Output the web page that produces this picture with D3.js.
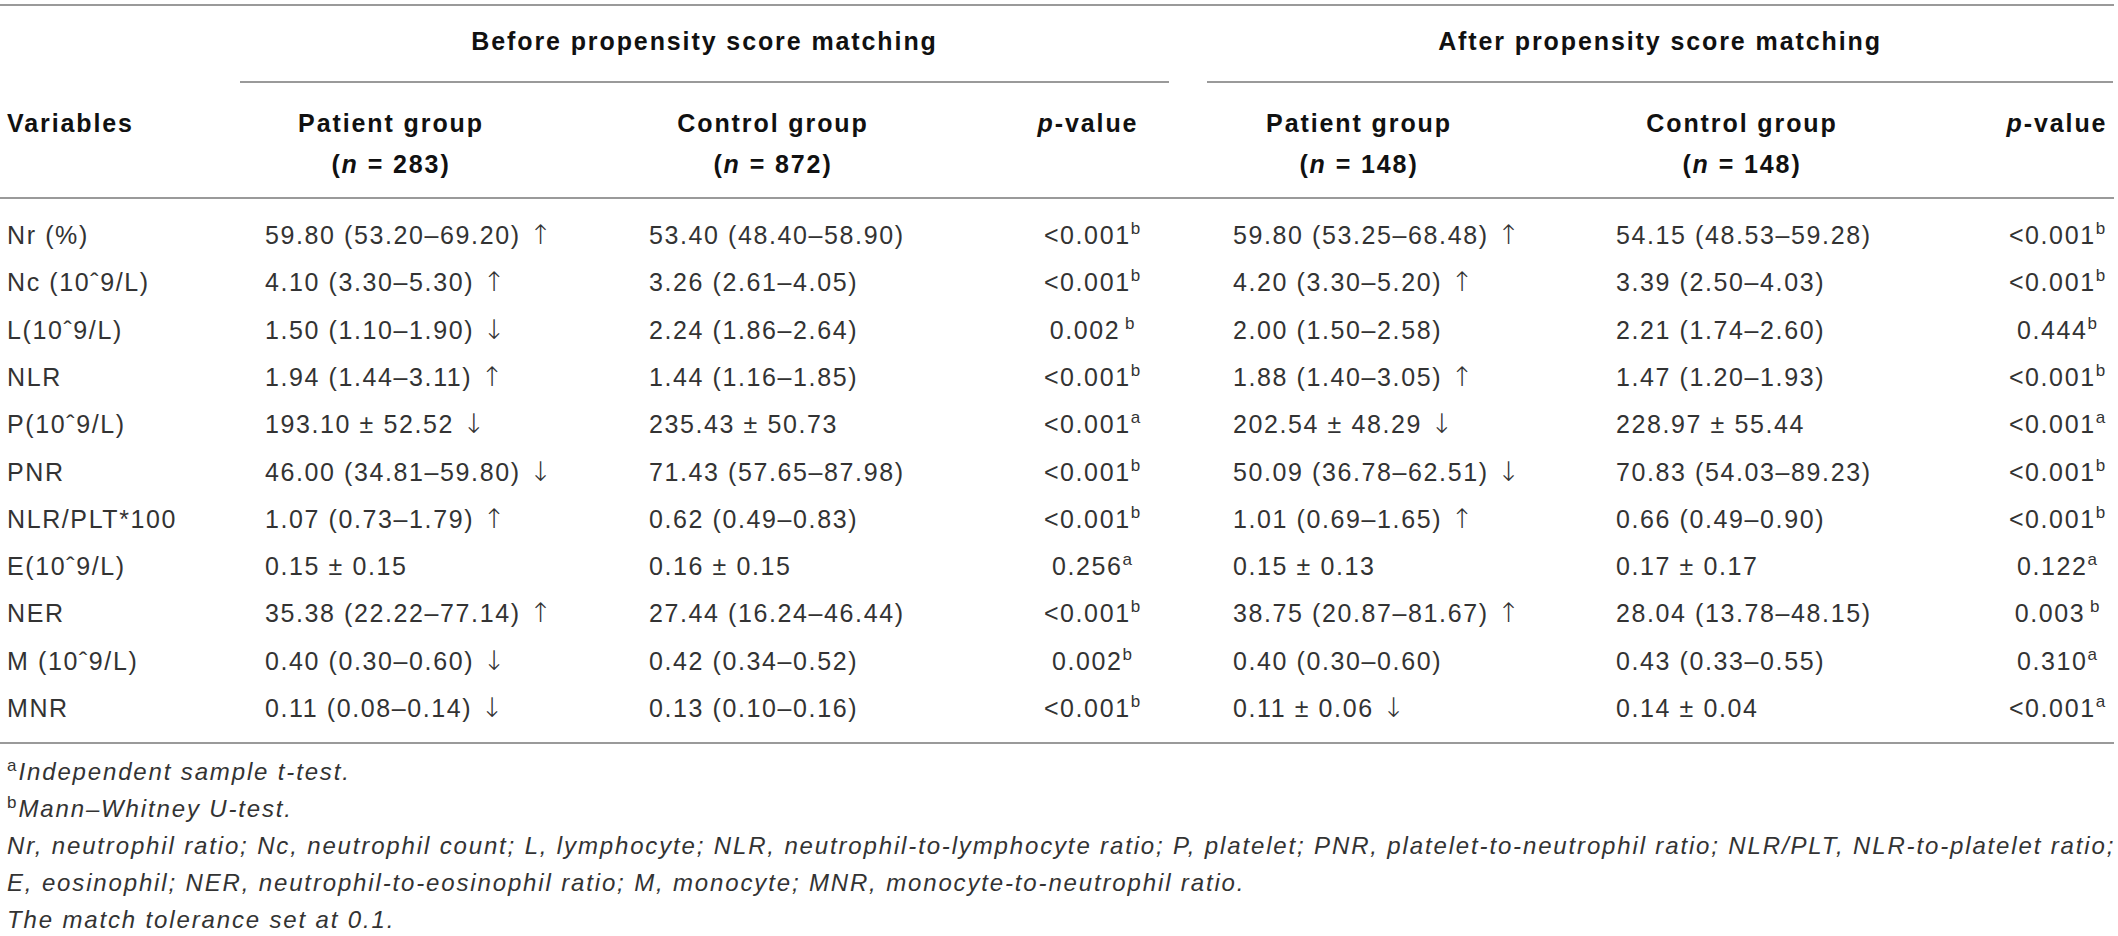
<!DOCTYPE html>
<html>
<head>
<meta charset="utf-8">
<script src="https://cdn.jsdelivr.net/npm/d3@7"></script>
<style>
  html, body { margin: 0; padding: 0; background: #fff; }
  svg text { font-family: "Liberation Sans", Arial, sans-serif; white-space: pre; }
</style>
</head>
<body>
<div id="table"></div>
<script>
// ---- table data ----
const variables = ["Nr (%)", "Nc (10ˆ9/L)", "L(10ˆ9/L)", "NLR", "P(10ˆ9/L)", "PNR",
  "NLR/PLT*100", "E(10ˆ9/L)", "NER", "M (10ˆ9/L)", "MNR"];

const beforePatient = ["59.80 (53.20–69.20) ↑", "4.10 (3.30–5.30) ↑", "1.50 (1.10–1.90) ↓",
  "1.94 (1.44–3.11) ↑", "193.10 ± 52.52 ↓", "46.00 (34.81–59.80) ↓", "1.07 (0.73–1.79) ↑",
  "0.15 ± 0.15", "35.38 (22.22–77.14) ↑", "0.40 (0.30–0.60) ↓", "0.11 (0.08–0.14) ↓"];
const beforeControl = ["53.40 (48.40–58.90)", "3.26 (2.61–4.05)", "2.24 (1.86–2.64)",
  "1.44 (1.16–1.85)", "235.43 ± 50.73", "71.43 (57.65–87.98)", "0.62 (0.49–0.83)",
  "0.16 ± 0.15", "27.44 (16.24–46.44)", "0.42 (0.34–0.52)", "0.13 (0.10–0.16)"];
const beforeP = ["<0.001", "<0.001", "0.002", "<0.001", "<0.001", "<0.001", "<0.001",
  "0.256", "<0.001", "0.002", "<0.001"];
const beforeTest = ["b", "b", " b", "b", "a", "b", "b", "a", "b", "b", "b"];

const afterPatient = ["59.80 (53.25–68.48) ↑", "4.20 (3.30–5.20) ↑", "2.00 (1.50–2.58)",
  "1.88 (1.40–3.05) ↑", "202.54 ± 48.29 ↓", "50.09 (36.78–62.51) ↓", "1.01 (0.69–1.65) ↑",
  "0.15 ± 0.13", "38.75 (20.87–81.67) ↑", "0.40 (0.30–0.60)", "0.11 ± 0.06 ↓"];
const afterControl = ["54.15 (48.53–59.28)", "3.39 (2.50–4.03)", "2.21 (1.74–2.60)",
  "1.47 (1.20–1.93)", "228.97 ± 55.44", "70.83 (54.03–89.23)", "0.66 (0.49–0.90)",
  "0.17 ± 0.17", "28.04 (13.78–48.15)", "0.43 (0.33–0.55)", "0.14 ± 0.04"];
const afterP = ["<0.001", "<0.001", "0.444", "<0.001", "<0.001", "<0.001", "<0.001",
  "0.122", "0.003", "0.310", "<0.001"];
const afterTest = ["b", "b", "b", "b", "a", "b", "b", "a", " b", "a", "a"];

const groups = ["Before propensity score matching", "After propensity score matching"];
const groupN = [["283", "872"], ["148", "148"]];

const footnotes = [
  { mark: "a", text: "Independent sample t-test." },
  { mark: "b", text: "Mann–Whitney U-test." },
  { mark: "", text: "Nr, neutrophil ratio; Nc, neutrophil count; L, lymphocyte; NLR, neutrophil-to-lymphocyte ratio; P, platelet; PNR, platelet-to-neutrophil ratio; NLR/PLT, NLR-to-platelet ratio;" },
  { mark: "", text: "E, eosinophil; NER, neutrophil-to-eosinophil ratio; M, monocyte; MNR, monocyte-to-neutrophil ratio." },
  { mark: "", text: "The match tolerance set at 0.1." }
];

// ---- layout ----
const width = 2118, height = 936;
const ruleColor = "#9a9a9a";
const bodyColor = "#333";

const svg = d3.select("#table").append("svg")
  .attr("width", width)
  .attr("height", height);

// row baselines
const y = d3.scalePoint().domain(variables).range([244, 717]);
const yFoot = d3.scalePoint().domain(d3.range(footnotes.length)).range([780, 928]);

// column anchors: left-aligned text columns and centered p-value columns
const colX = d3.scaleOrdinal()
  .domain(["var", "bp", "bc", "bpv", "ap", "ac", "apv"])
  .range([7, 265, 649, 1092, 1233, 1616, 2057]);
const headX = d3.scaleOrdinal()
  .domain(["bp", "bc", "bpv", "ap", "ac", "apv"])
  .range([391, 773, 1088, 1359, 1742, 2057]);
const spanX = d3.scaleOrdinal().domain(groups).range([[240, 1169], [1207, 2113]]);

// ---- rules ----
function rule(x1, x2, yy) {
  svg.append("line")
    .attr("x1", x1).attr("x2", x2)
    .attr("y1", yy).attr("y2", yy)
    .attr("stroke", ruleColor)
    .attr("stroke-width", 2);
}
rule(0, 2114, 5);
rule(0, 2114, 198);
rule(0, 2114, 743);
groups.forEach(g => rule(spanX(g)[0], spanX(g)[1], 82));

// ---- header ----
const head = svg.append("g")
  .attr("font-weight", "bold")
  .attr("font-size", 25)
  .attr("letter-spacing", "1.9px")
  .attr("fill", "#111");

head.selectAll("text.span")
  .data(groups)
  .join("text")
  .attr("class", "span")
  .attr("x", d => (spanX(d)[0] + spanX(d)[1]) / 2)
  .attr("y", 50)
  .attr("text-anchor", "middle")
  .text(d => d);

head.append("text").attr("x", colX("var")).attr("y", 132).text("Variables");

[["bp", "bc", "bpv"], ["ap", "ac", "apv"]].forEach((cols, gi) => {
  ["Patient group", "Control group"].forEach((label, j) => {
    head.append("text")
      .attr("x", headX(cols[j])).attr("y", 132)
      .attr("text-anchor", "middle")
      .text(label);
    const nt = head.append("text")
      .attr("x", headX(cols[j])).attr("y", 173)
      .attr("text-anchor", "middle");
    nt.append("tspan").text("(");
    nt.append("tspan").attr("font-style", "italic").text("n");
    nt.append("tspan").text(" = " + groupN[gi][j] + ")");
  });
  const pt = head.append("text")
    .attr("x", headX(cols[2])).attr("y", 132)
    .attr("text-anchor", "middle");
  pt.append("tspan").attr("font-style", "italic").text("p");
  pt.append("tspan").text("-value");
});

// ---- body ----
const body = svg.append("g")
  .attr("font-size", 25)
  .attr("letter-spacing", "1.6px")
  .attr("fill", bodyColor);

// arrows get a taller, thinner glyph than the body font offers
function cellText(sel, s) {
  s.split(/([↑↓])/).filter(p => p.length).forEach(p => {
    const ts = sel.append("tspan").text(p);
    if (p === "↑" || p === "↓") {
      ts.attr("font-family", "DejaVu Sans")
        .attr("font-weight", 200)
        .attr("font-size", 27);
    }
  });
}

const textCols = [
  ["var", variables], ["bp", beforePatient], ["bc", beforeControl],
  ["ap", afterPatient], ["ac", afterControl]
];
textCols.forEach(([key, vals]) => {
  body.selectAll(null)
    .data(vals)
    .join("text")
    .attr("x", colX(key))
    .attr("y", (d, i) => y(variables[i]))
    .each(function (d) { cellText(d3.select(this), d); });
});

[["bpv", beforeP, beforeTest], ["apv", afterP, afterTest]].forEach(([key, vals, notes]) => {
  body.selectAll(null)
    .data(vals)
    .join("text")
    .attr("x", colX(key))
    .attr("y", (d, i) => y(variables[i]))
    .attr("text-anchor", "middle")
    .each(function (d, i) {
      const t = d3.select(this);
      t.append("tspan").text(d);
      t.append("tspan")
        .attr("font-size", 17)
        .attr("letter-spacing", "0px")
        .attr("dy", -10)
        .text(notes[i]);
    });
});

// ---- footnotes ----
const foot = svg.append("g")
  .attr("font-size", 24)
  .attr("letter-spacing", "1.85px")
  .attr("fill", bodyColor);

foot.selectAll("text")
  .data(footnotes)
  .join("text")
  .attr("x", 7)
  .attr("y", (d, i) => yFoot(i))
  .each(function (d) {
    const t = d3.select(this);
    if (d.mark) {
      t.append("tspan")
        .attr("font-size", 17)
        .attr("letter-spacing", "0px")
        .attr("dy", -9)
        .text(d.mark);
      t.append("tspan")
        .attr("dy", 9)
        .attr("dx", 2)
        .attr("font-style", "italic")
        .text(d.text);
    } else {
      t.append("tspan").attr("font-style", "italic").text(d.text);
    }
  });
</script>
</body>
</html>
